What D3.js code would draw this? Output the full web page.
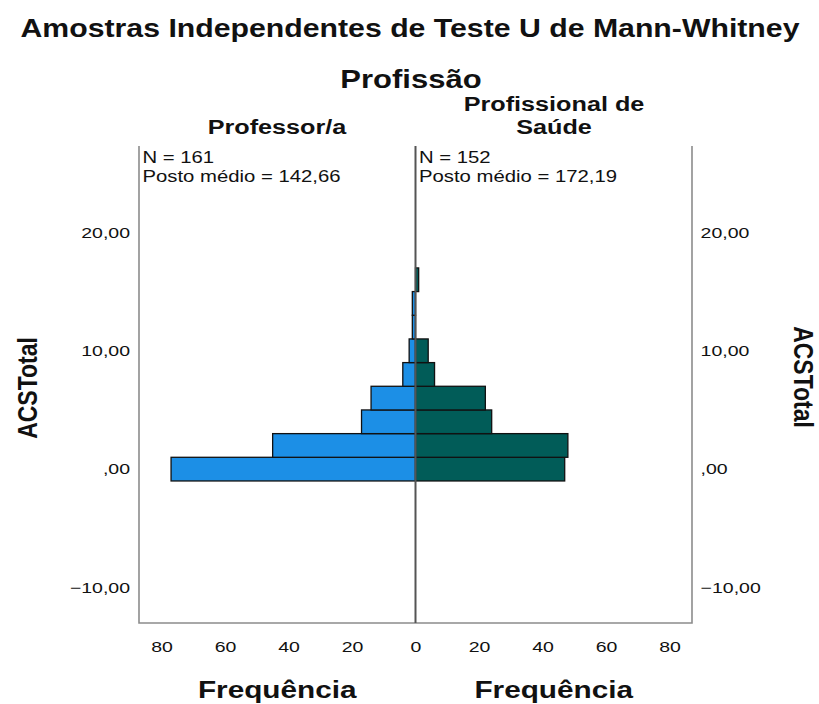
<!DOCTYPE html>
<html>
<head>
<meta charset="utf-8">
<script src="https://cdn.jsdelivr.net/npm/d3@7"></script>
<style>
  body { margin: 0; background: #fff; }
  text { font-family: "Liberation Sans", Arial, sans-serif; fill: #111; }
</style>
</head>
<body>
<div id="chart"></div>
<script>
// histogram bins of ACSTotal (bin centre, width 2)
const bins = [0, 2, 4, 6, 8, 10, 12, 14, 16];
const professor = [77, 45, 17, 14, 4, 2, 1, 1, 0];   // Professor/a
const saude = [47, 48, 24, 22, 6, 4, 0, 0, 1];       // Profissional de Saúde
const groups = ["Professor/a", "Profissional de Saúde"];
const nLabels = ["N = 161", "N = 152"];
const rankLabels = ["Posto médio = 142,66", "Posto médio = 172,19"];
const yTicks = [-10, 0, 10, 20];
const freqTicks = [0, 20, 40, 60, 80];

var width = 819, height = 704;
var svg = d3.select("#chart").append("svg")
    .attr("width", width)
    .attr("height", height);

var top_ = 146, bottom = 623, left = 139, mid = 415.5, right = 692;
var binW = 2;

var y = d3.scaleLinear().domain([-13, 27.3]).range([bottom, top_]);
var xL = d3.scaleLinear().domain([0, 87.1]).range([mid, left]);
var xR = d3.scaleLinear().domain([0, 87.1]).range([mid, right]);

// text with the wide look of the original render
function label(x, yy, txt, size, weight, anchor, sx) {
    return svg.append("text")
        .attr("transform", "translate(" + x + "," + yy + ") scale(" + sx + ",1)")
        .attr("text-anchor", anchor)
        .attr("font-size", size)
        .attr("font-weight", weight)
        .text(txt);
}

label(410, 37, "Amostras Independentes de Teste U de Mann-Whitney", 25, "bold", "middle", 1.21);
label(411, 88, "Profissão", 25, "bold", "middle", 1.24);
label(277, 134, groups[0], 21, "bold", "middle", 1.2);
label(554, 111, "Profissional de", 21, "bold", "middle", 1.2);
label(554, 134, "Saúde", 21, "bold", "middle", 1.2);

// bars
var rows = bins.map(function(b, i) {
    return { bin: b, prof: professor[i], saude: saude[i] };
});

svg.selectAll(".barL")
    .data(rows.filter(function(d) { return d.prof > 0; }))
    .join("rect")
    .attr("class", "barL")
    .attr("x", function(d) { return xL(d.prof); })
    .attr("y", function(d) { return y(d.bin + binW / 2); })
    .attr("width", function(d) { return xL(0) - xL(d.prof); })
    .attr("height", function(d) { return y(d.bin - binW / 2) - y(d.bin + binW / 2); })
    .attr("fill", "#1c8fe6")
    .attr("stroke", "#111")
    .attr("stroke-width", 1.3);

svg.selectAll(".barR")
    .data(rows.filter(function(d) { return d.saude > 0; }))
    .join("rect")
    .attr("class", "barR")
    .attr("x", xR(0))
    .attr("y", function(d) { return y(d.bin + binW / 2); })
    .attr("width", function(d) { return xR(d.saude) - xR(0); })
    .attr("height", function(d) { return y(d.bin - binW / 2) - y(d.bin + binW / 2); })
    .attr("fill", "#015c58")
    .attr("stroke", "#111")
    .attr("stroke-width", 1.3);

// frame
var frame = svg.append("g").attr("stroke", "#8c8c8c").attr("stroke-width", 1.6).attr("fill", "none");
frame.append("path").attr("d", "M" + left + "," + top_ + "V" + bottom + "H" + right + "V" + top_);
svg.append("line")
    .attr("x1", mid).attr("x2", mid)
    .attr("y1", top_).attr("y2", bottom)
    .attr("stroke", "#555").attr("stroke-width", 2);

// N / rank labels
label(142.5, 163, nLabels[0], 16, "normal", "start", 1.27);
label(142.5, 182, rankLabels[0], 16, "normal", "start", 1.27);
label(419, 163, nLabels[1], 16, "normal", "start", 1.27);
label(419, 182, rankLabels[1], 16, "normal", "start", 1.27);

// y axes
var fmtY = function(d) { return d3.format(".2f")(d).replace(".", ",").replace(/^0,/, ","); };
var sxT = 1.3;

var yAxisL = svg.append("g")
    .attr("transform", "translate(" + left + ",0)")
    .call(d3.axisLeft(y).tickValues(yTicks).tickSize(0).tickFormat(fmtY));
yAxisL.select(".domain").remove();
yAxisL.selectAll("text")
    .attr("x", -9 / sxT)
    .attr("transform", "scale(" + sxT + ",1)")
    .attr("font-size", 15)
    .attr("font-family", null);

var yAxisR = svg.append("g")
    .attr("transform", "translate(" + right + ",0)")
    .call(d3.axisRight(y).tickValues(yTicks).tickSize(0).tickFormat(fmtY));
yAxisR.select(".domain").remove();
yAxisR.selectAll("text")
    .attr("x", 8.6 / sxT)
    .attr("transform", "scale(" + sxT + ",1)")
    .attr("font-size", 15)
    .attr("font-family", null);

// x axes
var xAxisL = svg.append("g")
    .attr("transform", "translate(0," + bottom + ")")
    .call(d3.axisBottom(xL).tickValues(freqTicks).tickSize(0).tickFormat(d3.format("d")));
var xAxisR = svg.append("g")
    .attr("transform", "translate(0," + bottom + ")")
    .call(d3.axisBottom(xR).tickValues(freqTicks.slice(1)).tickSize(0).tickFormat(d3.format("d")));
[xAxisL, xAxisR].forEach(function(ax) {
    ax.select(".domain").remove();
    ax.selectAll("text")
        .attr("y", 29)
        .attr("dy", 0)
        .attr("transform", "scale(" + sxT + ",1)")
        .attr("font-size", 15)
        .attr("font-family", null);
});

// axis titles
label((left + mid) / 2, 698, "Frequência", 24, "bold", "middle", 1.24);
label((mid + right) / 2, 698, "Frequência", 24, "bold", "middle", 1.24);

svg.append("text")
    .attr("transform", "translate(37,388) scale(1.22,1) rotate(-90)")
    .attr("text-anchor", "middle")
    .attr("font-size", 23)
    .attr("font-weight", "bold")
    .text("ACSTotal");
svg.append("text")
    .attr("transform", "translate(794,377) scale(1.2,1) rotate(90)")
    .attr("text-anchor", "middle")
    .attr("font-size", 23)
    .attr("font-weight", "bold")
    .text("ACSTotal");
</script>
</body>
</html>
